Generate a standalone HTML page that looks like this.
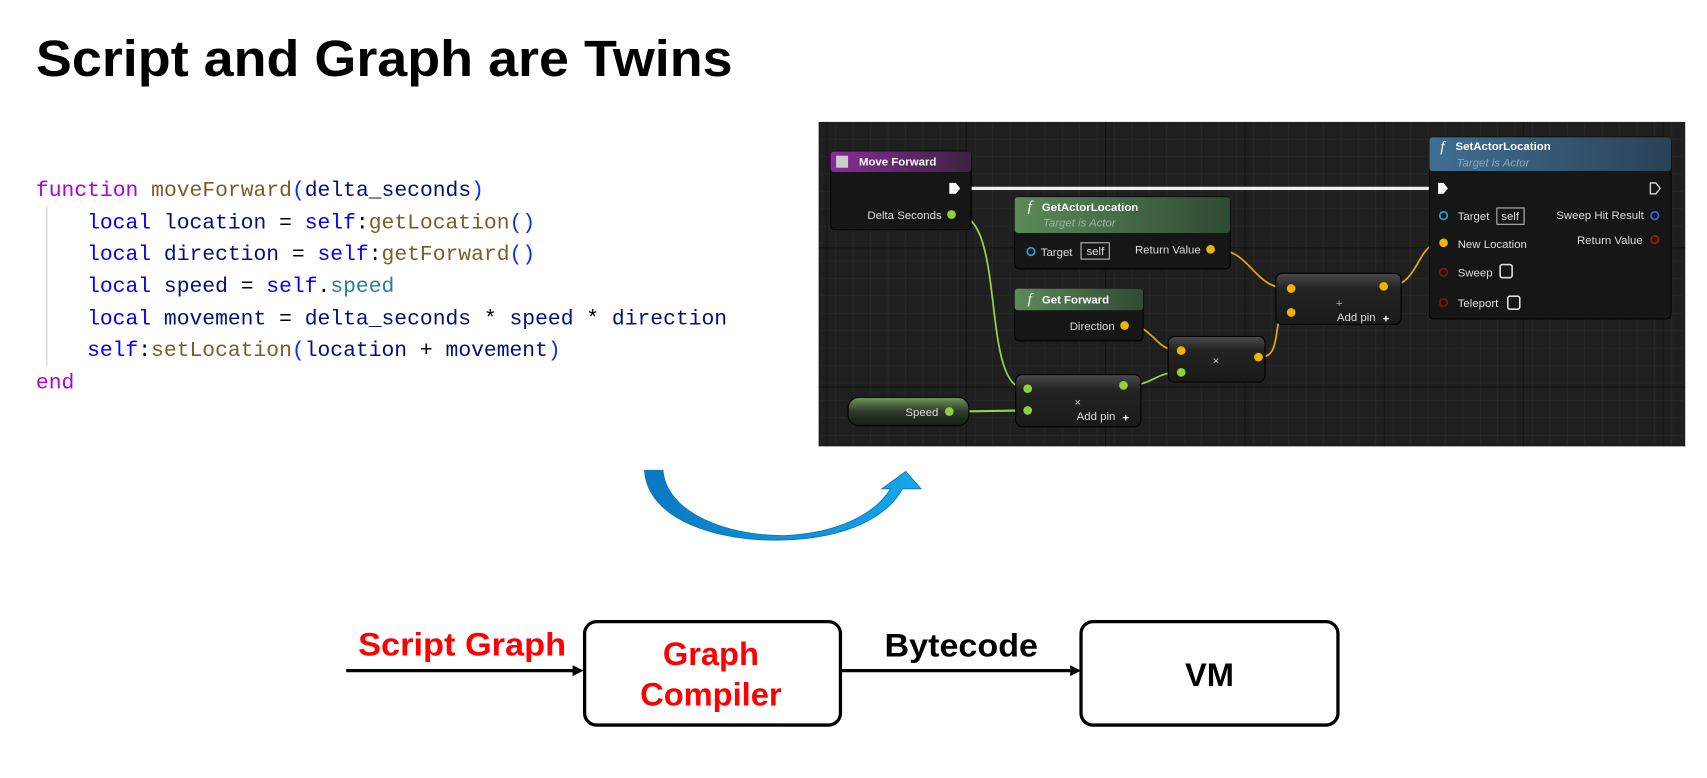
<!DOCTYPE html>
<html><head><meta charset="utf-8"><style>
html,body{margin:0;padding:0;background:#fff;width:1707px;height:778px;overflow:hidden}
svg{display:block}
.code{font-family:"Liberation Mono",monospace;font-size:19.6px}
.bp{font-family:"Liberation Sans",sans-serif;font-size:10.5px;fill:#ddd}
</style></head><body>
<svg width="1707" height="778" viewBox="0 0 1568 714.6" xmlns="http://www.w3.org/2000/svg">
<defs>
<pattern id="g" width="16" height="16" patternUnits="userSpaceOnUse" x="752" y="112"><path d="M16 0V16H0" fill="none" stroke="#2b2b2b" stroke-width="1"/></pattern>
<pattern id="G" width="128" height="128" patternUnits="userSpaceOnUse" x="760" y="100"><path d="M128 0V128H0" fill="none" stroke="#111" stroke-width="1.5"/></pattern>
<linearGradient id="ab" x1="0" x2="1"><stop offset="0" stop-color="#0b78c2"/><stop offset="1" stop-color="#12a8ec"/></linearGradient>
<linearGradient id="hp" x1="0" x2="1"><stop offset="0" stop-color="#8a2a9a"/><stop offset="1" stop-color="#3a2440"/></linearGradient>
<linearGradient id="hg" x1="0" x2="1"><stop offset="0" stop-color="#5c8a5a"/><stop offset="1" stop-color="#2f4a33"/></linearGradient>
<linearGradient id="hb" x1="0" x2="1"><stop offset="0" stop-color="#3f6f92"/><stop offset="1" stop-color="#2a4256"/></linearGradient>
<linearGradient id="nb" x1="0" y1="0" x2="0" y2="1"><stop offset="0" stop-color="#4a4a4a"/><stop offset="0.3" stop-color="#232323"/><stop offset="1" stop-color="#1a1a1a"/></linearGradient>
<linearGradient id="sp" x1="0" y1="0" x2="0" y2="1"><stop offset="0" stop-color="#6f9a5a"/><stop offset="0.5" stop-color="#2c3a2a"/><stop offset="1" stop-color="#1a1a1a"/></linearGradient>
</defs>

<text x="33" y="70" font-family="Liberation Sans,sans-serif" font-weight="bold" font-size="47" fill="#000" textLength="640" lengthAdjust="spacingAndGlyphs">Script and Graph are Twins</text>

<!-- code -->
<line x1="43" y1="190" x2="43" y2="336" stroke="#ccc" stroke-width="1"/>
<g class="code">
<text x="33" y="180"><tspan fill="#af00db">function</tspan> <tspan fill="#795e26">moveForward</tspan><tspan fill="#0431fa">(</tspan><tspan fill="#001080">delta_seconds</tspan><tspan fill="#0431fa">)</tspan></text>
<text x="80" y="210"><tspan fill="#0000ff">local</tspan> <tspan fill="#001080">location</tspan> = <tspan fill="#0000ff">self</tspan>:<tspan fill="#795e26">getLocation</tspan><tspan fill="#0431fa">()</tspan></text>
<text x="80" y="239"><tspan fill="#0000ff">local</tspan> <tspan fill="#001080">direction</tspan> = <tspan fill="#0000ff">self</tspan>:<tspan fill="#795e26">getForward</tspan><tspan fill="#0431fa">()</tspan></text>
<text x="80" y="268"><tspan fill="#0000ff">local</tspan> <tspan fill="#001080">speed</tspan> = <tspan fill="#0000ff">self</tspan>.<tspan fill="#267f99">speed</tspan></text>
<text x="80" y="298"><tspan fill="#0000ff">local</tspan> <tspan fill="#001080">movement</tspan> = <tspan fill="#001080">delta_seconds</tspan> * <tspan fill="#001080">speed</tspan> * <tspan fill="#001080">direction</tspan></text>
<text x="80" y="327"><tspan fill="#0000ff">self</tspan>:<tspan fill="#795e26">setLocation</tspan><tspan fill="#0431fa">(</tspan><tspan fill="#001080">location</tspan> + <tspan fill="#001080">movement</tspan><tspan fill="#0431fa">)</tspan></text>
<text x="33" y="357" fill="#af00db">end</text>
</g>

<!-- blueprint -->
<rect x="752" y="112" width="796" height="298" fill="#1f1f1f"/>
<rect x="752" y="112" width="796" height="298" fill="url(#g)"/>
<rect x="752" y="112" width="796" height="298" fill="url(#G)"/>

<!-- wires -->
<g fill="none" stroke-width="1.6">
<line x1="884" y1="173" x2="1322" y2="173" stroke="#eee" stroke-width="3"/>
<path d="M879,197 C925,197 900,357 942,357" stroke="#9ccf4a"/>
<path d="M877,378 L942,377" stroke="#9ccf4a" stroke-width="2"/>
<path d="M1035,354 C1060,354 1060,342 1083,342" stroke="#9ccf4a"/>
<path d="M1037,299 C1060,299 1060,322 1083,322" stroke="#e0a810"/>
<path d="M1158,328 C1180,328 1166,287 1184,287" stroke="#e0a810"/>
<path d="M1116,229 C1150,229 1150,265 1184,265" stroke="#e0a810"/>
<path d="M1274,263 C1305,263 1300,223 1324,223" stroke="#e0a810"/>
</g>

<!-- Move Forward -->
<rect x="763" y="139" width="129" height="72" rx="4" fill="#161616" stroke="#000"/>
<rect x="763" y="139" width="129" height="19" rx="3" fill="url(#hp)"/>
<rect x="768" y="143" width="11" height="11" fill="#ccc"/>
<text x="789" y="152" class="bp" font-weight="bold" style="fill:#fff">Move Forward</text>
<path d="M872,168 h6 l4,5 l-4,5 h-6z" fill="#fff"/>
<text x="865" y="201" class="bp" text-anchor="end">Delta Seconds</text>
<circle cx="874" cy="197" r="4" fill="#8fd13a"/>

<!-- GetActorLocation -->
<rect x="932" y="181" width="198" height="66" rx="4" fill="#161616" stroke="#000"/>
<rect x="932" y="181" width="198" height="33" rx="3" fill="url(#hg)"/>
<text x="944" y="194" font-family="Liberation Serif,serif" font-style="italic" font-size="14" fill="#fff">f</text>
<text x="957" y="194" class="bp" font-weight="bold" style="fill:#fff">GetActorLocation</text>
<text x="958" y="208" class="bp" font-style="italic" style="fill:#9bb49a">Target is Actor</text>
<circle cx="947" cy="231" r="3.5" fill="none" stroke="#2aa0e0" stroke-width="1.5"/>
<text x="956" y="235" class="bp">Target</text>
<rect x="993" y="223" width="26" height="15" fill="none" stroke="#bbb"/>
<text x="998" y="234" class="bp">self</text>
<text x="1103" y="233" class="bp" text-anchor="end">Return Value</text>
<circle cx="1112" cy="229" r="4" fill="#f0b400"/>

<!-- Get Forward -->
<rect x="932" y="265" width="118" height="48" rx="4" fill="#161616" stroke="#000"/>
<rect x="932" y="265" width="118" height="20" rx="3" fill="url(#hg)"/>
<text x="944" y="279" font-family="Liberation Serif,serif" font-style="italic" font-size="14" fill="#fff">f</text>
<text x="957" y="279" class="bp" font-weight="bold" style="fill:#fff">Get Forward</text>
<text x="1024" y="303" class="bp" text-anchor="end">Direction</text>
<circle cx="1033" cy="299" r="4" fill="#f0b400"/>

<!-- multiply 1 -->
<rect x="1073" y="309" width="89" height="42" rx="6" fill="url(#nb)" stroke="#000"/>
<circle cx="1085" cy="322" r="4" fill="#f0b400"/>
<circle cx="1085" cy="342" r="4" fill="#8fd13a"/>
<circle cx="1156" cy="328" r="4" fill="#f0b400"/>
<text x="1117" y="335" class="bp" text-anchor="middle" font-size="16" style="fill:#ccc">×</text>

<!-- add -->
<rect x="1172" y="251" width="115" height="47" rx="6" fill="url(#nb)" stroke="#000"/>
<circle cx="1186" cy="265" r="4" fill="#f0b400"/>
<circle cx="1186" cy="287" r="4" fill="#f0b400"/>
<circle cx="1271" cy="263" r="4" fill="#f0b400"/>
<text x="1230" y="282" class="bp" text-anchor="middle" font-size="16" style="fill:#aaa">+</text>
<text x="1228" y="295" class="bp">Add pin</text>
<text x="1270" y="296" class="bp" font-weight="bold" font-size="14" style="fill:#fff">+</text>

<!-- multiply 2 -->
<rect x="933" y="344" width="115" height="48" rx="6" fill="url(#nb)" stroke="#000"/>
<circle cx="944" cy="357" r="4" fill="#8fd13a"/>
<circle cx="944" cy="377" r="4" fill="#8fd13a"/>
<circle cx="1032" cy="354" r="4" fill="#8fd13a"/>
<text x="990" y="373" class="bp" text-anchor="middle" font-size="16" style="fill:#ccc">×</text>
<text x="989" y="386" class="bp">Add pin</text>
<text x="1031" y="387" class="bp" font-weight="bold" font-size="14" style="fill:#fff">+</text>

<!-- Speed -->
<rect x="779" y="365" width="111" height="26" rx="10" fill="url(#sp)" stroke="#000"/>
<text x="862" y="382" class="bp" text-anchor="end">Speed</text>
<circle cx="872" cy="378" r="4" fill="#8fd13a"/>

<!-- SetActorLocation -->
<rect x="1313" y="126" width="222" height="167" rx="4" fill="#161616" stroke="#000"/>
<rect x="1313" y="126" width="222" height="31" rx="3" fill="url(#hb)"/>
<text x="1323" y="139" font-family="Liberation Serif,serif" font-style="italic" font-size="14" fill="#fff">f</text>
<text x="1337" y="138" class="bp" font-weight="bold" style="fill:#fff">SetActorLocation</text>
<text x="1338" y="153" class="bp" font-style="italic" style="fill:#8fa8b8">Target is Actor</text>
<path d="M1321,168 h5 l4,5 l-4,5 h-5z" fill="#fff"/>
<path d="M1516,168 h5 l4,5 l-4,5 h-5z" fill="none" stroke="#ddd" stroke-width="1.2"/>
<circle cx="1326" cy="198" r="3.5" fill="none" stroke="#2aa0e0" stroke-width="1.5"/>
<text x="1339" y="202" class="bp">Target</text>
<rect x="1375" y="191" width="25" height="15" fill="none" stroke="#bbb"/>
<text x="1379" y="202" class="bp">self</text>
<text x="1510" y="201" class="bp" text-anchor="end">Sweep Hit Result</text>
<circle cx="1520" cy="198" r="3.5" fill="none" stroke="#2a70e0" stroke-width="1.5"/>
<circle cx="1326" cy="223" r="4" fill="#f0b400"/>
<text x="1339" y="228" class="bp">New Location</text>
<text x="1509" y="224" class="bp" text-anchor="end">Return Value</text>
<circle cx="1520" cy="220" r="3.5" fill="none" stroke="#b01010" stroke-width="1.5"/>
<circle cx="1326" cy="250" r="3.5" fill="none" stroke="#8a1010" stroke-width="1.5"/>
<text x="1339" y="254" class="bp">Sweep</text>
<rect x="1378" y="243" width="11" height="12" rx="2" fill="none" stroke="#ddd" stroke-width="1.5"/>
<circle cx="1326" cy="278" r="3.5" fill="none" stroke="#8a1010" stroke-width="1.5"/>
<text x="1339" y="282" class="bp">Teleport</text>
<rect x="1385" y="272" width="11" height="12" rx="2" fill="none" stroke="#ddd" stroke-width="1.5"/>

<!-- curved arrow -->
<path d="M592,432 C595,478 660,498 720,496 C780,494 815,474 829,449 L846,449 L832,433 L810,449 L818,449 C804,472 770,490 720,492 C665,492 612,470 609,432 Z" fill="url(#ab)" stroke="#1572b8" stroke-width="0.8"/>

<!-- bottom diagram -->
<g font-family="Liberation Sans,sans-serif" font-weight="bold" font-size="30">
<text x="329" y="602" fill="#ff0000" textLength="191" lengthAdjust="spacingAndGlyphs">Script Graph</text>
<line x1="318" y1="616" x2="528" y2="616" stroke="#000" stroke-width="3"/>
<path d="M536,616 l-10,-5 v10z" fill="#000"/>
<rect x="537" y="571" width="235" height="95" rx="11" fill="#fff" stroke="#000" stroke-width="3"/>
<text x="653" y="611" text-anchor="middle" fill="#ff0000">Graph</text>
<text x="653" y="648" text-anchor="middle" fill="#ff0000">Compiler</text>
<line x1="772" y1="616" x2="984" y2="616" stroke="#000" stroke-width="3"/>
<path d="M993,616 l-10,-5 v10z" fill="#000"/>
<text x="883" y="603" text-anchor="middle" fill="#000" textLength="141" lengthAdjust="spacingAndGlyphs">Bytecode</text>
<rect x="993" y="571" width="236" height="95" rx="11" fill="#fff" stroke="#000" stroke-width="3"/>
<text x="1111" y="630" text-anchor="middle" fill="#000">VM</text>
</g>
</svg>
</body></html>
